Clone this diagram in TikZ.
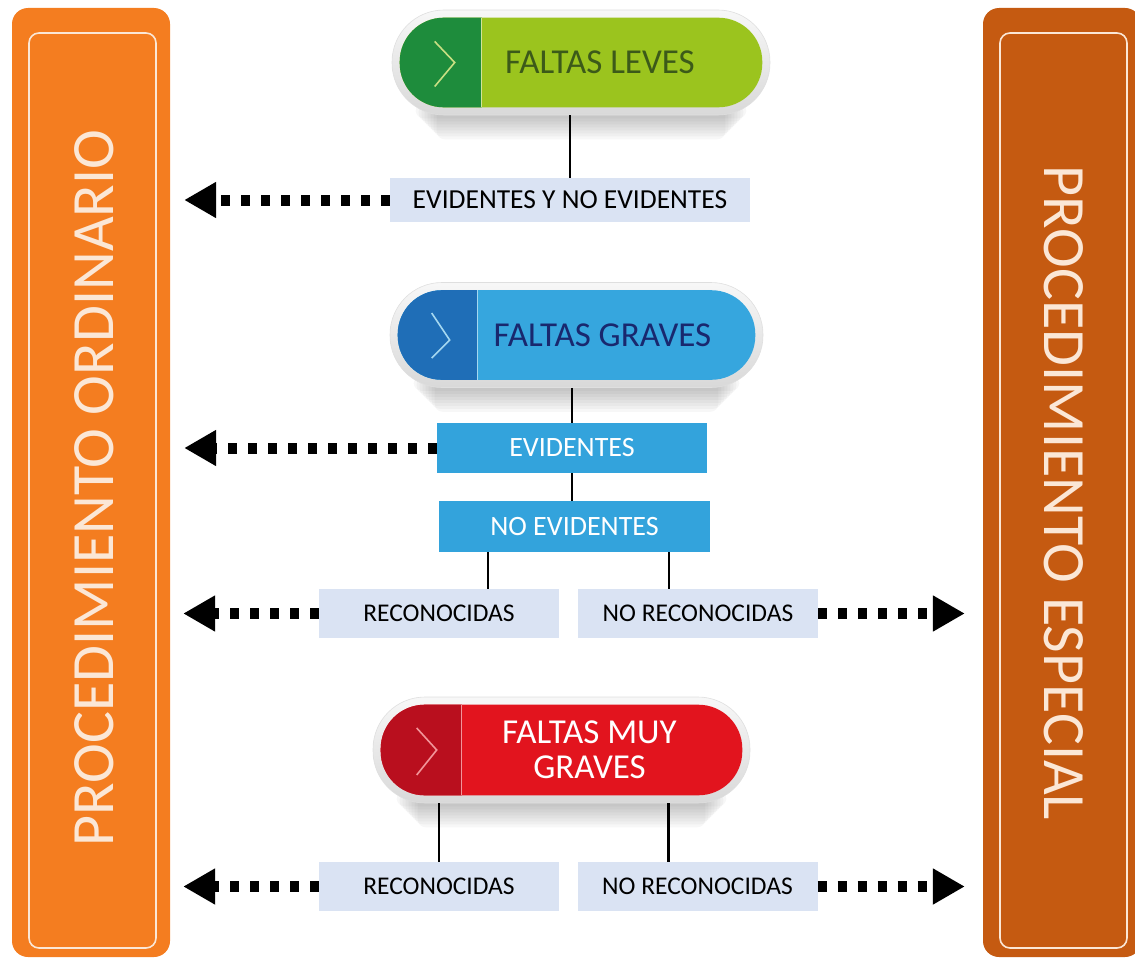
\documentclass[tikz,border=0pt]{standalone}
\usepackage{fontspec}
\setmainfont{Carlito}
\usetikzlibrary{arrows.meta,backgrounds}

\definecolor{ordinario}{HTML}{F47D20}
\definecolor{especial}{HTML}{C55A11}
\definecolor{crema}{HTML}{FBE7D6}
\definecolor{cajagris}{HTML}{DAE3F3}
\definecolor{cajaazul}{HTML}{33A3DC}
\definecolor{verdeclaro}{HTML}{9BC41E}
\definecolor{verdeoscuro}{HTML}{1E8C3C}
\definecolor{verdetexto}{HTML}{3C5A19}
\definecolor{azulclaro}{HTML}{36A6DE}
\definecolor{azuloscuro}{HTML}{1F6EB7}
\definecolor{azultexto}{HTML}{19286E}
\definecolor{rojoclaro}{HTML}{E2141E}
\definecolor{rojooscuro}{HTML}{B90F1E}

\tikzset{
  barra/.style={rounded corners=16pt, minimum width=158pt, inner sep=0pt},
  marco/.style={draw=crema, line width=1.6pt, rounded corners=10pt},
  titulo/.style={text=crema, font=\fontsize{60}{64}\selectfont},
  pill/.style={rounded corners=52pt, minimum height=105pt, inner sep=0pt,
    top color=gray!6, bottom color=gray!30, draw=gray!25, line width=0.6pt},
  pilltexto/.style={font=\fontsize{35}{35}\selectfont, align=center},
  caja/.style={fill=cajagris, minimum width=240pt, minimum height=49pt, inner sep=0pt,
    font=\fontsize{25.5}{28}\selectfont},
  cajaazul/.style={fill=cajaazul, text=white, minimum width=271pt, minimum height=50pt,
    inner sep=0pt, font=\fontsize{28}{30}\selectfont},
  linea/.style={line width=2.4pt},
  flecha/.style={line width=11pt, dash pattern=on 9pt off 11pt,
    -{Triangle[length=32pt,width=34pt]}}
}

\begin{document}
\begin{tikzpicture}[x=1pt, y=-1pt]

  \useasboundingbox (0,0) rectangle (1135,958);

  % barras laterales
  \node[barra, fill=ordinario, minimum height=949pt] (ordin) at (91,482.5) {};
  \draw[marco] (29,33) rectangle (156,948);
  \node[titulo, rotate=90] (ordin-t) at (94,488) {PROCEDIMIENTO ORDINARIO};

  \node[barra, fill=especial, minimum height=949pt] (espec) at (1062,482.5) {};
  \draw[marco] (1000,33) rectangle (1127,948);
  \node[titulo, rotate=-90] (espec-t) at (1064,493) {PROCEDIMIENTO ESPECIAL};

  % faltas leves
  \node[pill, minimum width=378pt] (leves) at (581,62.5) {};
  \begin{scope}
    \clip[rounded corners=44pt] ([shift={(8,8)}]leves.north west)
      rectangle ([shift={(-8,-8)}]leves.south east);
    \fill[verdeclaro] (leves.north west) rectangle (leves.south east);
    \fill[verdeoscuro] (leves.north west) rectangle ([xshift=90pt]leves.south west);
    \draw[white!55!verdeclaro, line width=1pt]
      ([xshift=90pt]leves.north west) -- ([xshift=90pt]leves.south west);
  \end{scope}
  \draw[white!45!verdeclaro, line width=1.6pt] ([shift={(43,-21)}]leves.west)
    -- ([shift={(63,0)}]leves.west) -- ([shift={(43,24)}]leves.west);
  \node[pilltexto, text=verdetexto] (leves-t) at ([xshift=19pt]leves) {FALTAS LEVES};

  \node[caja, minimum width=360pt, minimum height=44pt, font=\fontsize{27.5}{30}\selectfont]
    (evnev) at (570,200) {EVIDENTES Y NO EVIDENTES};

  % faltas graves
  \node[pill, minimum width=373pt] (graves) at (576.5,335) {};
  \begin{scope}
    \clip[rounded corners=44pt] ([shift={(8,8)}]graves.north west)
      rectangle ([shift={(-8,-8)}]graves.south east);
    \fill[azulclaro] (graves.north west) rectangle (graves.south east);
    \fill[azuloscuro] (graves.north west) rectangle ([xshift=88pt]graves.south west);
    \draw[white!55!azulclaro, line width=1pt]
      ([xshift=88pt]graves.north west) -- ([xshift=88pt]graves.south west);
  \end{scope}
  \draw[white!55!azulclaro, line width=1.6pt] ([shift={(42,-22)}]graves.west)
    -- ([shift={(60,5)}]graves.west) -- ([shift={(42,23)}]graves.west);
  \node[pilltexto, text=azultexto] (graves-t) at ([xshift=26pt]graves) {FALTAS GRAVES};

  \node[cajaazul, minimum width=270pt] (evid) at (572,448) {EVIDENTES};
  \node[cajaazul, minimum height=51pt] (noev) at (574.5,526.5) {NO EVIDENTES};
  \node[caja] (rec1) at (439,613.5) {RECONOCIDAS};
  \node[caja] (norec1) at (698,613.5) {NO RECONOCIDAS};

  % faltas muy graves
  \node[pill, minimum width=377pt, minimum height=106pt] (muy) at (561.5,750) {};
  \begin{scope}
    \clip[rounded corners=44pt] ([shift={(8,8)}]muy.north west)
      rectangle ([shift={(-8,-8)}]muy.south east);
    \fill[rojoclaro] (muy.north west) rectangle (muy.south east);
    \fill[rojooscuro] (muy.north west) rectangle ([xshift=89pt]muy.south west);
    \draw[white!55!rojoclaro, line width=1pt]
      ([xshift=89pt]muy.north west) -- ([xshift=89pt]muy.south west);
  \end{scope}
  \draw[white!55!rojoclaro, line width=1.6pt] ([shift={(44,-22)}]muy.west)
    -- ([shift={(64,0)}]muy.west) -- ([shift={(44,25)}]muy.west);
  \node[pilltexto, text=white] (muy-t) at ([xshift=28pt]muy) {FALTAS MUY\\GRAVES};

  \node[caja] (rec2) at (439,886.5) {RECONOCIDAS};
  \node[caja] (norec2) at (697.5,886.5) {NO RECONOCIDAS};

  % sombras
  \begin{scope}[on background layer]
    \foreach \p in {leves,graves,muy}
      \foreach \k in {0,...,7}
        \fill[black, opacity=0.03, rounded corners=8pt]
          ([shift={(24+3*\k,-12)}]\p.south west)
          rectangle ([shift={(-24-3*\k,3+3*\k)}]\p.south east);
  \end{scope}

  % lineas
  \draw[linea] (evnev.north |- leves.south) -- (evnev.north);
  \draw[linea] (evid.north |- graves.south) -- (evid.north);
  \draw[linea] (evid.south) -- (evid.south |- noev.north);
  \draw[linea] ([xshift=49pt]rec1.north |- noev.south) -- ([xshift=49pt]rec1.north);
  \draw[linea] ([xshift=-29pt]norec1.north |- noev.south) -- ([xshift=-29pt]norec1.north);
  \draw[linea] (rec2.north |- muy.south) -- (rec2.north);
  \draw[linea] ([xshift=-29pt]norec2.north |- muy.south) -- ([xshift=-29pt]norec2.north);

  % flechas
  \draw[flecha] (evnev.west) -- ([xshift=14pt]evnev.west -| ordin.east);
  \draw[flecha] (evid.west) -- ([xshift=14pt]evid.west -| ordin.east);
  \draw[flecha] (rec1.west) -- ([xshift=13pt]rec1.west -| ordin.east);
  \draw[flecha] (rec2.west) -- ([xshift=13pt]rec2.west -| ordin.east);
  \draw[flecha] (norec1.east) -- ([xshift=-18pt]norec1.east -| espec.west);
  \draw[flecha] (norec2.east) -- ([xshift=-18pt]norec2.east -| espec.west);

\end{tikzpicture}
\end{document}
